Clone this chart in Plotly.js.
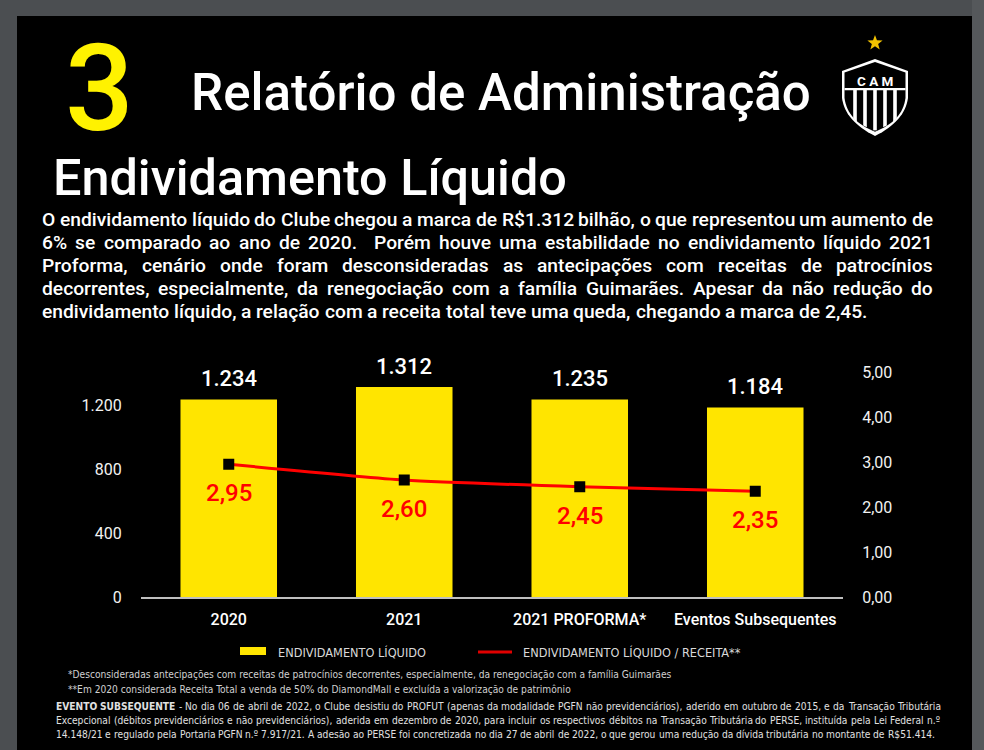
<!DOCTYPE html>
<html><head><meta charset="utf-8">
<script src="https://cdn.plot.ly/plotly-3.0.1.min.js"></script>
<style>html,body{margin:0;padding:0;background:#4b4e51;}#chart{width:984px;height:750px;}</style>
</head><body><div id="chart"></div>
<script>
// ---------- data ----------
const categories = ['2020', '2021', '2021 PROFORMA*', 'Eventos Subsequentes'];
const debtValues = [1234, 1312, 1235, 1184];
const ratioValues = [2.95, 2.60, 2.45, 2.35];
const debtTicks = [0, 400, 800, 1200];
const ratioTicks = [0, 1, 2, 3, 4, 5];
const legendLabels = ['ENDIVIDAMENTO LÍQUIDO', 'ENDIVIDAMENTO LÍQUIDO / RECEITA**'];
const titleNumber = '3';
const titleText = 'Relatório de Administração';
const subtitleText = 'Endividamento Líquido';
const logoText = 'C A M';
const paragraphLines = [
  'O endividamento líquido do Clube chegou a marca de R$1.312 bilhão, o que representou um aumento de',
  '6% se comparado ao ano de 2020.  Porém houve uma estabilidade no endividamento líquido 2021',
  'Proforma, cenário onde foram desconsideradas as antecipações com receitas de patrocínios',
  'decorrentes, especialmente, da renegociação com a família Guimarães. Apesar da não redução do',
  'endividamento líquido, a relação com a receita total teve uma queda, chegando a marca de 2,45.'
];
const footnoteLines = [
  '*Desconsideradas antecipações com receitas de patrocínios decorrentes, especialmente, da renegociação com a família Guimarães',
  '**Em 2020 considerada Receita Total a venda de 50% do DiamondMall e excluída a valorização de patrimônio'
];
const eventLines = [
  'EVENTO SUBSEQUENTE - No dia 06 de abril de 2022, o Clube desistiu do PROFUT (apenas da modalidade PGFN não previdenciários), aderido em outubro de 2015, e da Transação Tributária',
  'Excepcional (débitos previdenciários e não previdenciários), aderida em dezembro de 2020, para incluir os respectivos débitos na Transação Tributária do PERSE, instituída pela Lei Federal n.º',
  '14.148/21 e regulado pela Portaria PGFN n.º 7.917/21. A adesão ao PERSE foi concretizada no dia 27 de abril de 2022, o que gerou uma redução da dívida tributária no montante de R$51.414.'
];
const boldWords = ['EVENTO', 'SUBSEQUENTE'];

// ---------- layout helpers ----------
const W = 984, H = 750;
const M = {l: 141, r: 141, t: 372, b: 153};
const PW = W - M.l - M.r, PH = H - M.t - M.b;
const px = x => (x - M.l) / PW;
const py = y => (H - M.b - y) / PH;
const idx = categories.map((c, i) => i);

const HEAD = 'Roboto, "DejaVu Sans", sans-serif';
const NOTE = '"Liberation Sans Narrow", "DejaVu Sans Condensed", "Arial Narrow", sans-serif';

const cv = document.createElement('canvas');
const ctx = cv.getContext('2d');
function measure(text, size, family, weight) {
  ctx.font = weight + ' ' + size + 'px ' + family;
  return ctx.measureText(text).width;
}
function fitSize(text, width, family, weight) {
  return 100 * width / measure(text, 100, family, weight);
}

const ann = [];
function addText(text, x, y, size, family, weight, color, anchor) {
  ann.push({xref: 'paper', yref: 'paper', x: px(x), y: py(y), text: text, showarrow: false,
    xanchor: anchor || 'left', yanchor: 'middle', borderpad: 0,
    font: {family: family, size: size, color: color, weight: weight}});
}
function justifyLine(line, x0, x1, y, size, family, weight, color, justify) {
  const words = line.split(' ');
  const ws = words.map(w => measure(w, size, family, boldWords.includes(w) ? 700 : weight));
  const total = ws.reduce((a, b) => a + b, 0);
  const gap = justify ? (x1 - x0 - total) / (words.length - 1) : measure(' ', size, family, weight);
  let x = x0;
  words.forEach((w, i) => {
    if (w.length) {
      const wt = boldWords.includes(w) ? 700 : weight;
      addText(w, x, y, size, family, wt, color, 'left');
    }
    x += ws[i] + gap;
  });
}

// ---------- header ----------
addText(titleNumber, 99, 89, 121, HEAD, 500, '#FFF200', 'center');
const tSize = fitSize(titleText, 620, HEAD, 500);
addText(titleText, 190, 93, tSize, HEAD, 500, '#ffffff', 'left');
const sSize = fitSize(subtitleText, 514, HEAD, 500);
addText(subtitleText, 52, 177, sSize, HEAD, 500, '#ffffff', 'left');

// ---------- paragraph ----------
const pSize = fitSize(paragraphLines[4], 826, HEAD, 500);
paragraphLines.forEach((l, i) => {
  justifyLine(l, 41, 932, 219 + i * 23.2, pSize, HEAD, 500, '#ffffff', i < 4);
});

// ---------- value labels (from data) ----------
idx.forEach(i => {
  ann.push({xref: 'x', yref: 'y', x: i, y: debtValues[i], yshift: 21, showarrow: false,
    yanchor: 'middle', text: debtValues[i].toLocaleString('de-DE'),
    font: {family: HEAD, size: 22, color: '#ffffff', weight: 500}});
  ann.push({xref: 'x', yref: 'y2', x: i, y: ratioValues[i], yshift: -29, showarrow: false,
    yanchor: 'middle', text: ratioValues[i].toFixed(2).replace('.', ','),
    font: {family: HEAD, size: 24, color: '#FF0000', weight: 500}});
});

// ---------- legend ----------
const lgSize = fitSize(legendLabels[0], 148, NOTE, 400);
addText(legendLabels[0], 277, 652, lgSize, NOTE, 400, '#d9d9d9', 'left');
addText(legendLabels[1], 522, 652, lgSize, NOTE, 400, '#d9d9d9', 'left');

// ---------- footnotes ----------
const nSize = fitSize(eventLines[2], 880, NOTE, 400);
addText(footnoteLines[0], 67, 674, nSize, NOTE, 400, '#d0d0d0', 'left');
addText(footnoteLines[1], 67, 689, nSize, NOTE, 400, '#d0d0d0', 'left');
const evY = [706, 720, 734];
eventLines.forEach((l, i) => justifyLine(l, 55, 939, evY[i], nSize, NOTE, 400, '#e0e0e0', i < 2));

// ---------- shapes ----------
function pathOf(pts) {
  return 'M' + pts.map(p => px(p[0]).toFixed(5) + ',' + py(p[1]).toFixed(5)).join(' L') + ' Z';
}
function bez(p0, p1, p2, n) {
  const out = [];
  for (let i = 0; i <= n; i++) {
    const t = i / n, a = (1 - t) * (1 - t), b = 2 * (1 - t) * t, c = t * t;
    out.push([a * p0[0] + b * p1[0] + c * p2[0], a * p0[1] + b * p1[1] + c * p2[1]]);
  }
  return out;
}
function shield(ins) {
  const L = 842 + ins, R = 908 - ins, top = 59 + ins * 1.2, cy = 71 + ins * 0.6, sy = 98, bot = 136 - ins * 1.7;
  const right = bez([R, sy], [R - 3, 121], [875, bot], 16);
  const left = bez([875, bot], [L + 3, 121], [L, sy], 16);
  return [[L, cy], [875, top], [R, cy]].concat(right, left);
}
const inner = shield(2.5);
const innerBottom = inner.slice(3);
function bottomAt(x) {
  let best = innerBottom[0], bd = 1e9;
  innerBottom.forEach(p => { const d = Math.abs(p[0] - x); if (d < bd) { bd = d; best = p; } });
  return best[1];
}
const shapes = [
  {type: 'rect', xref: 'paper', yref: 'paper', x0: px(17), x1: px(972), y0: py(16), y1: py(770),
   fillcolor: '#000000', line: {width: 0}, layer: 'below'},
  {type: 'rect', xref: 'paper', yref: 'paper', x0: px(972), x1: px(990), y0: py(0), y1: py(770),
   fillcolor: '#55585b', line: {width: 0}, layer: 'below'},
  {type: 'path', xref: 'paper', yref: 'paper', path: pathOf(shield(0)), fillcolor: '#ffffff', line: {width: 0}},
  {type: 'path', xref: 'paper', yref: 'paper', path: pathOf(inner), fillcolor: '#000000', line: {width: 0}},
  {type: 'rect', xref: 'paper', yref: 'paper', x0: px(844.5), x1: px(905.5), y0: py(88), y1: py(90.2),
   fillcolor: '#ffffff', line: {width: 0}}
];
[855, 865, 875, 885, 895].forEach(cx => {
  const a = cx - 1.8, b = cx + 1.8;
  shapes.push({type: 'path', xref: 'paper', yref: 'paper',
    path: pathOf([[a, 90], [b, 90], [b, bottomAt(b)], [a, bottomAt(a)]]),
    fillcolor: '#ffffff', line: {width: 0}});
});
const star = [];
for (let i = 0; i < 10; i++) {
  const r = i % 2 === 0 ? 8 : 3.3, ang = -Math.PI / 2 + i * Math.PI / 5;
  star.push([875 + r * Math.cos(ang), 43 + r * Math.sin(ang)]);
}
shapes.push({type: 'path', xref: 'paper', yref: 'paper', path: pathOf(star), fillcolor: '#F2C200', line: {width: 0}});
addText(logoText, 875, 81, 13.5, HEAD, 700, '#ffffff', 'center');
shapes.push({type: 'rect', xref: 'paper', yref: 'paper', x0: px(240), x1: px(266), y0: py(647), y1: py(655),
  fillcolor: '#FFE500', line: {width: 0}});
shapes.push({type: 'line', xref: 'paper', yref: 'paper', x0: px(478), x1: px(512), y0: py(652), y1: py(652),
  line: {color: '#E00000', width: 3}});

// ---------- traces ----------
const data = [
  {type: 'bar', x: idx, y: debtValues, width: 0.55, marker: {color: '#FFE500', line: {width: 0}},
   hoverinfo: 'skip', showlegend: false},
  {type: 'scatter', mode: 'lines+markers', x: idx, y: ratioValues, yaxis: 'y2',
   line: {color: '#FF0000', width: 3, shape: 'spline', smoothing: 0.5},
   marker: {symbol: 'square', size: 11, color: '#000000'}, hoverinfo: 'skip', showlegend: false, cliponaxis: false}
];

const layout = {
  width: W, height: H, margin: M,
  paper_bgcolor: '#4b4e51', plot_bgcolor: '#000000',
  separators: ',.', showlegend: false,
  xaxis: {type: 'linear', range: [-0.5, categories.length - 0.5], tickvals: idx, ticktext: categories,
    showline: true, linecolor: '#bfbfbf', linewidth: 2, showgrid: false, zeroline: false,
    ticks: 'outside', ticklen: 7, tickcolor: 'rgba(0,0,0,0)',
    tickfont: {family: HEAD, size: 16, color: '#ffffff', weight: 500}, fixedrange: true},
  yaxis: {range: [0, 1406.25], tickvals: debtTicks, tickformat: ',d', showgrid: false, zeroline: false,
    showline: false, ticks: 'outside', ticklen: 15, tickcolor: 'rgba(0,0,0,0)',
    tickfont: {family: HEAD, size: 16, color: '#f2f2f2'}, fixedrange: true},
  yaxis2: {overlaying: 'y', side: 'right', range: [0, 5], tickvals: ratioTicks, tickformat: '.2f',
    showgrid: false, zeroline: false, showline: false, ticks: 'outside', ticklen: 15, tickcolor: 'rgba(0,0,0,0)',
    tickfont: {family: HEAD, size: 16, color: '#f2f2f2'}, fixedrange: true},
  shapes: shapes,
  annotations: ann
};

Plotly.newPlot('chart', data, layout, {staticPlot: true, displayModeBar: false});
</script>
</body></html>
